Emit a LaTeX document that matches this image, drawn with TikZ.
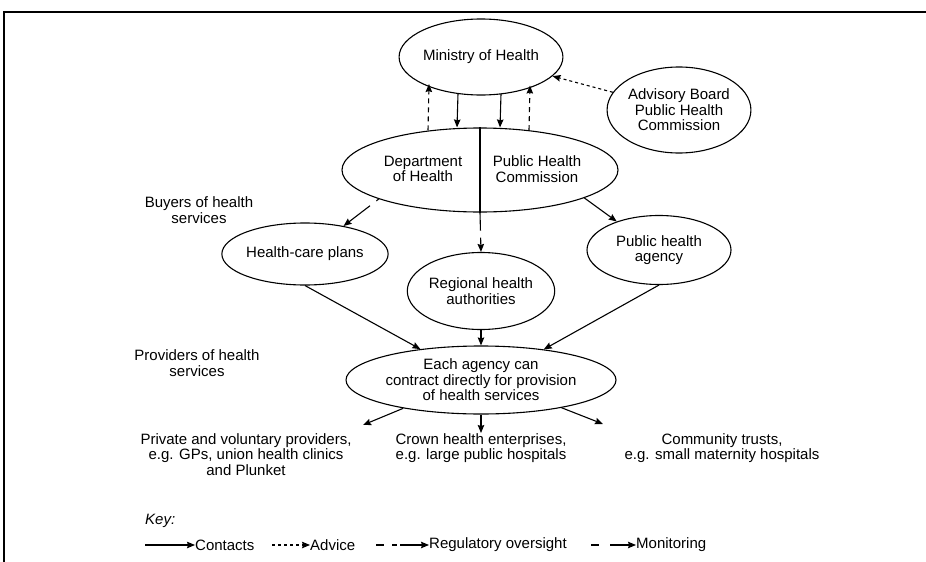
\documentclass[tikz,border=0pt]{standalone}
\usepackage{fontspec}
\setmainfont{Liberation Sans}
\usetikzlibrary{shapes.geometric,arrows.meta}
\begin{document}
\begin{tikzpicture}[x=1pt,y=-1pt,
  every node/.style={font=\fontsize{15}{15.5}\selectfont},
  oval/.style={draw, ellipse, inner sep=0pt, line width=1.1pt, align=center},
  lbl/.style={align=center, inner sep=0pt},
  tip/.style={-{Stealth[length=8pt,width=6.5pt,inset=1pt]}},
  contact/.style={line width=1.1pt, tip},
  advice/.style={line width=1.1pt, tip, dash pattern=on 3pt off 3pt},
  regul/.style={line width=1.1pt, tip, dash pattern=on 5pt off 4pt},
  frame/.style={line width=1.5pt}
]
\useasboundingbox (0,0) rectangle (926,562);

% page frame (top and left rules)
\draw[frame] (926,12) -- (4,12) -- (4,562);

% ovals
\node[oval, minimum width=144pt, minimum height=76pt] (ministry) at (481,57) {Ministry of Health};
\node[oval, minimum width=138pt, minimum height=86pt] (advisory) at (679,110) {Advisory Board\\Public Health\\Commission};
\node[oval, minimum width=276pt, minimum height=84pt] (dept) at (480,170) {};
\node[lbl] (depttxt) at (423,169) {Department\\of Health};
\node[lbl] (phctxt) at (537,169) {Public Health\\Commission};
\node[oval, minimum width=145pt, minimum height=62pt] (hcp) at (305,254) {Health-care plans};
\node[oval, minimum width=146pt, minimum height=77pt] (regional) at (481,291) {Regional health\\authorities};
\node[oval, minimum width=144pt, minimum height=69pt] (pha) at (659,250) {Public health\\agency};
\node[oval, minimum width=248pt, minimum height=68pt] (each) at (481,380) {Each agency can\\contract directly for provision\\of health services};

% side labels
\node[lbl] (buyers) at (199,210) {Buyers of health\\services};
\node[lbl] (providers) at (197,363) {Providers of health\\services};

% provider groups
\node[lbl, anchor=north] (private) at (246,433) {Private and voluntary providers,\\e.g. GPs, union health clinics\\and Plunket};
\node[lbl, anchor=north] (crown) at (481,433) {Crown health enterprises,\\e.g. large public hospitals};
\node[lbl, anchor=north] (community) at (722,433) {Community trusts,\\e.g. small maternity hospitals};
\coordinate (privtip) at (363,425);
\coordinate (commtip) at (603,424);

% divider inside the department oval
\draw[line width=1.1pt] (dept.north) -- (dept.south);

% Ministry <-> Department / Commission
\draw[regul] ([xshift=-52pt,yshift=-3pt]dept.north) -- ([xshift=-52pt,yshift=11.5pt]ministry.south);
\draw[contact] ([xshift=-23pt,yshift=2pt]ministry.south) -- ([xshift=-23pt]dept.north);
\draw[contact] ([xshift=20pt,yshift=1.5pt]ministry.south) -- ([xshift=20pt]dept.north);
\draw[regul] ([xshift=49pt,yshift=-2.7pt]dept.north) -- ([xshift=49pt,yshift=10pt]ministry.south);
\draw[advice] (advisory) -- (ministry);

% buyers
\draw[line width=1.1pt, tip, dash pattern=on 3pt off 8pt on 40pt] (dept.196) -- (hcp.36);
\draw[line width=1.1pt, tip, dash pattern=on 18pt off 7pt on 40pt] (dept.south) -- (regional.north);
\draw[contact] (dept.-15) -- (pha.146);

% into the contracting oval
\draw[contact] (hcp.south) -- (each.153);
\draw[contact] (regional.south) -- (each.north);
\draw[contact] (pha.south) -- (each.26);

% out to providers
\draw[contact] (each.200) -- (privtip);
\draw[contact] (each.south) -- (crown.north);
\draw[contact] (each.-19) -- (commtip);

% key
\node[lbl, anchor=west] (keyhead) at (145,521) {\itshape Key:};
\coordinate (k1a) at (145,545);
\coordinate (k1b) at (195,545);
\node[lbl, anchor=west] (kcontacts) at (k1b) {Contacts};
\coordinate (k2a) at (272,545);
\coordinate (k2b) at (310,545);
\node[lbl, anchor=west] (kadvice) at (k2b) {Advice};
\coordinate (k3a) at (376,545);
\coordinate (k3b) at (429,545);
\node[lbl, anchor=west] (kregul) at (k3b) {Regulatory oversight};
\coordinate (k4a) at (591,545);
\coordinate (k4b) at (636,545);
\node[lbl, anchor=west] (kmonit) at (k4b) {Monitoring};
\draw[contact] (k1a) -- (k1b);
\draw[advice] (k2a) -- (k2b);
\draw[line width=1.1pt, tip, dash pattern=on 8pt off 8pt on 5pt off 3pt on 40pt] (k3a) -- (k3b);
\draw[line width=1.1pt, tip, dash pattern=on 8pt off 11pt on 40pt] (k4a) -- (k4b);
\end{tikzpicture}
\end{document}
